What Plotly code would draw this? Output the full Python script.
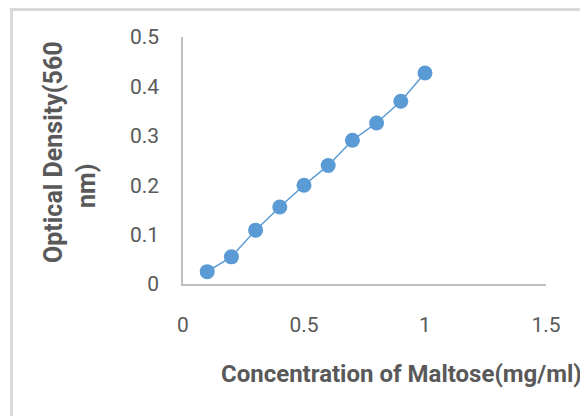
import plotly.graph_objects as go

concentration = [0.1, 0.2, 0.3, 0.4, 0.5, 0.6, 0.7, 0.8, 0.9, 1.0]
optical_density = [0.025, 0.055, 0.109, 0.156, 0.200, 0.240, 0.291, 0.326, 0.370, 0.427]
x_ticks = [0, 0.5, 1, 1.5]
x_tick_labels = ["0", "0.5", "1", "1.5"]
y_ticks = [0, 0.1, 0.2, 0.3, 0.4, 0.5]
y_tick_labels = ["0", "0.1", "0.2", "0.3", "0.4", "0.5"]

OFF = 8  # page body margin
W, H = 588, 416
# plot area in screen pixels: x 183..546, y 37..284
L, T = 183 - OFF, 37 - OFF
R = W - (546 - OFF)
B = H - (284 - OFF)
pw, ph = W - L - R, H - T - B

def px(x):
    return (x - OFF - L) / pw

def py(y):
    return (H - B - (y - OFF)) / ph

fig = go.Figure()
fig.add_trace(go.Scatter(
    x=concentration, y=optical_density, mode="lines+markers",
    line=dict(color="#5b9bd5", width=1.5),
    marker=dict(color="#5b9bd5", size=15),
    showlegend=False, cliponaxis=False,
))

grey = "#595959"
fig.update_layout(
    width=W, height=H,
    margin=dict(l=L, r=R, t=T, b=B, pad=0),
    paper_bgcolor="white", plot_bgcolor="white",
    font=dict(family="Roboto", color=grey, size=21),
    xaxis=dict(range=[0, 1.5], tickvals=x_ticks, ticktext=x_tick_labels,
               showgrid=False, zeroline=False, showline=True,
               linecolor="#bfbfbf", linewidth=1.5, ticks="",
               ticklabelstandoff=21, tickfont=dict(size=21, color=grey)),
    yaxis=dict(range=[0, 0.5], tickvals=y_ticks, ticktext=y_tick_labels,
               showgrid=False, zeroline=False, showline=True,
               linecolor="#bfbfbf", linewidth=1.5, ticks="",
               ticklabelstandoff=18, tickfont=dict(size=21, color=grey)),
    shapes=[dict(type="rect", xref="paper", yref="paper",
                 x0=px(11.5), x1=px(640), y0=py(470), y1=py(9.5),
                 line=dict(color="#d9d9d9", width=3), fillcolor="rgba(0,0,0,0)",
                 layer="below")],
    annotations=[
        dict(text="<b>Concentration of Maltose(mg/ml)</b>", xref="paper", yref="paper",
             x=px(219), y=py(374), xanchor="left", yanchor="middle", showarrow=False,
             font=dict(family="Roboto", size=24, color=grey)),
        dict(text="<b>Optical Density(560</b>", xref="paper", yref="paper",
             x=px(53), y=py(152), xanchor="center", yanchor="middle", showarrow=False,
             textangle=-90, font=dict(family="Roboto", size=25, color=grey)),
        dict(text="<b>nm)</b>", xref="paper", yref="paper",
             x=px(86), y=py(186), xanchor="center", yanchor="middle", showarrow=False,
             textangle=-90, font=dict(family="Roboto", size=25, color=grey)),
    ],
)

fig.write_html("out.html")
